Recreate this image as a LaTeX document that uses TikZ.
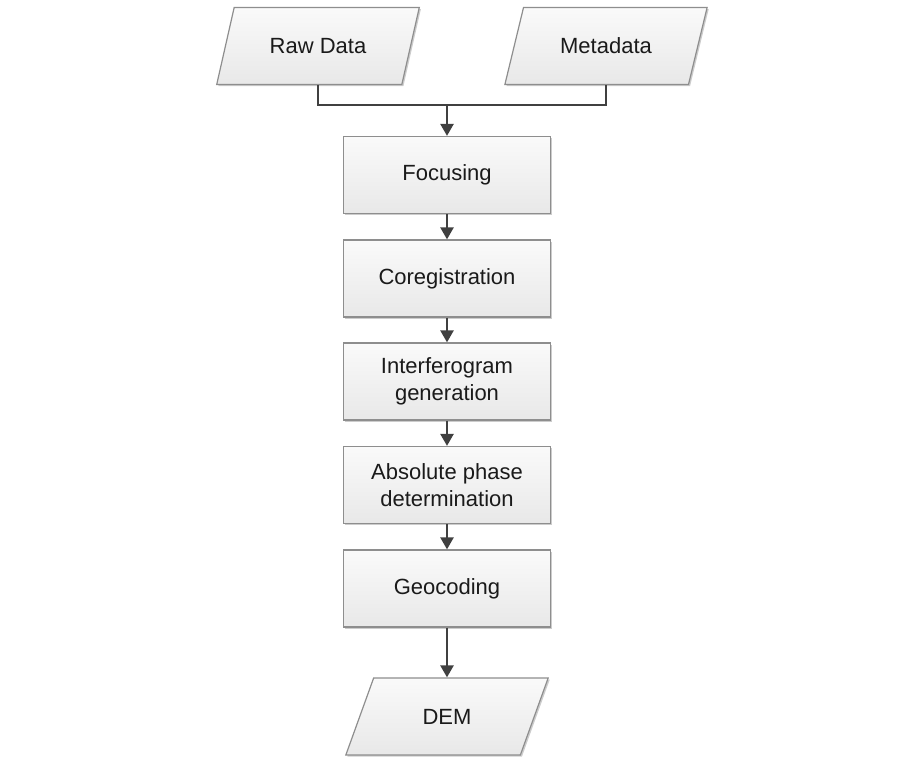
\documentclass[tikz,border=0pt]{standalone}
\usepackage{fontspec}
\setmainfont{Liberation Sans}
\usetikzlibrary{arrows.meta,shapes.geometric,shadows}
\definecolor{edgegray}{HTML}{8E8E8E}
\definecolor{linegray}{HTML}{404040}
\definecolor{textgray}{HTML}{1A1A1A}
\begin{document}
\begin{tikzpicture}[x=0.5pt,y=-0.5pt,
  font=\fontsize{11}{13.5}\selectfont,text=textgray,
  stepbox/.style={rectangle,draw=edgegray,line width=0.6pt,top color=white!98!black,bottom color=white!91!black,
    minimum width=103.5pt,minimum height=38.5pt,align=center,inner sep=2pt,
    drop shadow={shadow xshift=0.8pt,shadow yshift=-0.8pt,opacity=0.2,fill=black}},
  iobox/.style={trapezium,trapezium left angle=65,trapezium right angle=115,trapezium stretches=true,
    draw=edgegray,line width=0.6pt,top color=white!98!black,bottom color=white!91!black,
    minimum width=101.5pt,minimum height=38.5pt,align=center,inner sep=2pt,
    drop shadow={shadow xshift=0.8pt,shadow yshift=-0.8pt,opacity=0.2,fill=black}},
  link/.style={draw=linegray,line width=1.2pt},
  flow/.style={link,-{Triangle[length=6pt,width=6.5pt]}}]
\useasboundingbox (0,0) rectangle (915,758);
\node[iobox] (raw) at (318,46) {Raw Data};
\node[iobox] (meta) at (606,46) {Metadata};
\coordinate (join) at (447,105);
\node[stepbox] (focus) at (447,175) {Focusing};
\node[stepbox] (coreg) at (447,278.5) {Coregistration};
\node[stepbox] (ifg) at (447,381.5) {Interferogram\\generation};
\node[stepbox] (phase) at (447,485) {Absolute phase\\determination};
\node[stepbox] (geo) at (447,588.5) {Geocoding};
\node[iobox] (dem) at (447,716.5) {DEM};
\draw[link] (raw.center |- raw.south) |- (join);
\draw[link] (meta.center |- meta.south) |- (join);
\draw[flow] (join) -- (focus);
\draw[flow] (focus) -- (coreg);
\draw[flow] (coreg) -- (ifg);
\draw[flow] (ifg) -- (phase);
\draw[flow] (phase) -- (geo);
\draw[flow] (geo) -- (geo.south |- dem.north);
\end{tikzpicture}
\end{document}
